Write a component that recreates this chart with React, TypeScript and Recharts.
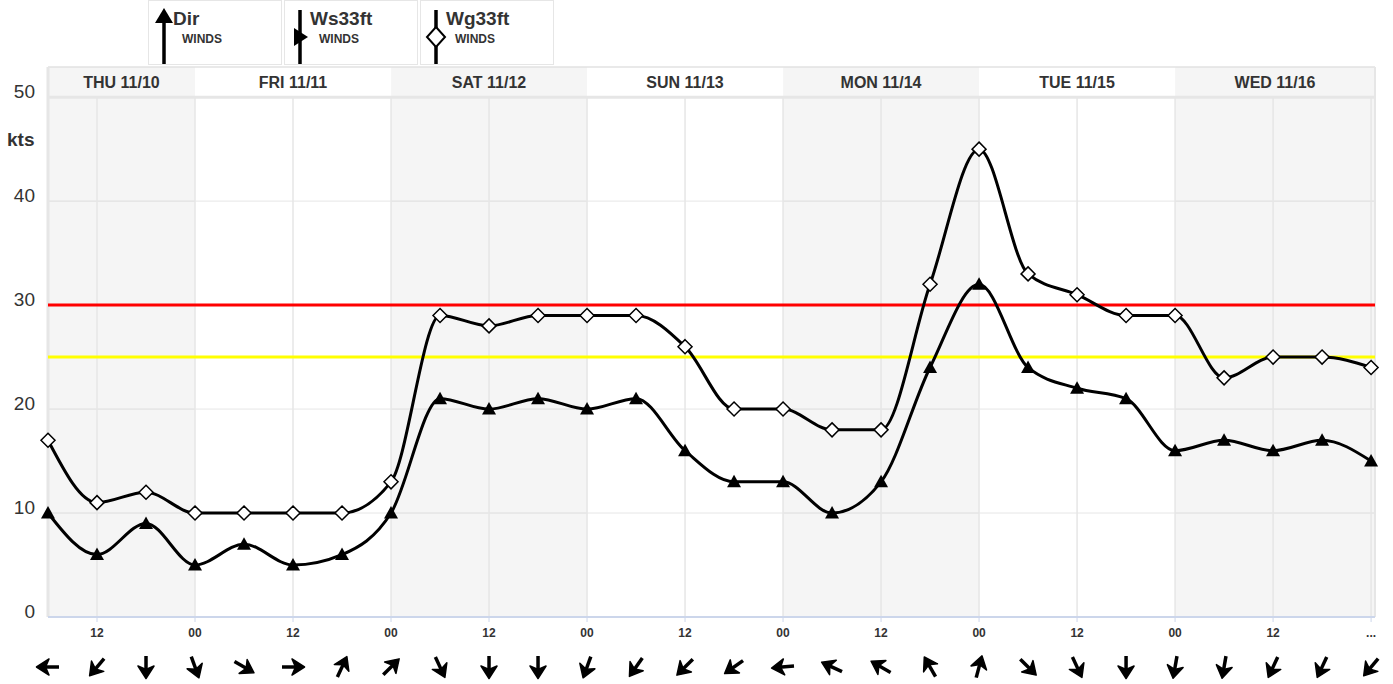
import React from "react";
import { ComposedChart, Line, XAxis, YAxis, CartesianGrid, ReferenceLine, ReferenceArea } from "recharts";

// one value every 6 hours, starting Thu 11/10 06z
const WS_33FT = [10, 6, 9, 5, 7, 5, 6, 10, 21, 20, 21, 20, 21, 16, 13, 13, 10, 13, 24, 32, 24, 22, 21, 16, 17, 16, 17, 15];
const WG_33FT = [17, 11, 12, 10, 10, 10, 10, 13, 29, 28, 29, 29, 29, 26, 20, 20, 18, 18, 32, 45, 33, 31, 29, 29, 23, 25, 25, 24];
// direction the arrow points, degrees clockwise from up
const DIR_DEG = [270, 220, 180, 160, 120, 90, 25, 45, 155, 180, 180, 200, 215, 225, 235, 265, 295, 300, 330, 15, 135, 155, 180, 190, 190, 205, 205, 220];

const HOUR_TICKS = [1, 3, 5, 7, 9, 11, 13, 15, 17, 19, 21, 23, 25, 27];
const HOUR_LABELS = ["12", "00", "12", "00", "12", "00", "12", "00", "12", "00", "12", "00", "12", "..."];

const DAY_LABELS = ["THU 11/10", "FRI 11/11", "SAT 11/12", "SUN 11/13", "MON 11/14", "TUE 11/15", "WED 11/16"];
const DAY_START = [0, 3, 7, 11, 15, 19, 23];
const DAY_END = [3, 7, 11, 15, 19, 23, 27.08];

const Y_TICKS = [0, 10, 20, 30, 40, 50];
const RED_LIMIT = 30;
const YELLOW_LIMIT = 25;

const X_MAX = 27.08;
const Y_MAX = 52.9;

const rows = WS_33FT.map((ws, i) => ({ x: i, ws, wg: WG_33FT[i], dir: DIR_DEG[i] }));

const FONT = "'Liberation Sans', Arial, sans-serif";
const GRID = "#e6e6e6";
const TEXT = "#333333";

function Triangle(p: any) {
  const { cx, cy, index } = p;
  if (cx == null || cy == null) return <g key={`t-${index}`} />;
  return <path key={`t-${index}`} d={`M${cx},${cy - 7} L${cx + 7},${cy + 5.5} L${cx - 7},${cy + 5.5} Z`} fill="#000" />;
}

function Diamond(p: any) {
  const { cx, cy, index } = p;
  if (cx == null || cy == null) return <g key={`d-${index}`} />;
  return (
    <path
      key={`d-${index}`}
      d={`M${cx},${cy - 7} L${cx + 7},${cy} L${cx},${cy + 7} L${cx - 7},${cy} Z`}
      fill="#fff"
      stroke="#000"
      strokeWidth={1.5}
    />
  );
}

function YTick(p: any) {
  return (
    <text x={35} y={p.y} dy={1} textAnchor="end" fontSize={19} fill={TEXT}>
      {p.payload.value}
    </text>
  );
}

function HourTick(p: any) {
  const i = HOUR_TICKS.indexOf(p.payload.value);
  return (
    <text x={p.x} y={p.y} dy={13} textAnchor="middle" fontSize={12} fontWeight={700} fill={TEXT}>
      {HOUR_LABELS[i]}
    </text>
  );
}

function ArrowTick(p: any) {
  const deg = DIR_DEG[p.payload.value];
  if (deg == null) return <g />;
  return (
    <g transform={`translate(${p.x},${p.y + 12}) rotate(${deg})`}>
      <line x1={0} y1={-4} x2={0} y2={11} stroke="#000" strokeWidth={3.5} />
      <path d="M0,-11.5 L8,1 L0,-2.5 L-8,1 Z" fill="#000" stroke="#000" strokeWidth={1.5} strokeLinejoin="round" />
    </g>
  );
}

function Legend() {
  const boxes = [
    { left: 148, name: "Dir", kind: "dir" },
    { left: 284, name: "Ws33ft", kind: "ws" },
    { left: 420, name: "Wg33ft", kind: "wg" },
  ];
  return (
    <svg width={1393} height={66} style={{ position: "absolute", left: 0, top: 0, fontFamily: FONT }}>
      {boxes.map((b) => (
        <g key={b.name} transform={`translate(${b.left},0)`}>
          <rect x={0.5} y={0.5} width={133} height={64} fill="#fff" stroke={GRID} />
          <line x1={16} y1={b.kind === "dir" ? 14 : 10} x2={16} y2={64} stroke="#000" strokeWidth={3.5} />
          {b.kind === "dir" && <path d="M16,8 L25,23 L7,23 Z" fill="#000" />}
          {b.kind === "ws" && <path d="M10,28 L24,37 L10,46 Z" fill="#000" />}
          {b.kind === "wg" && <path d="M16,27 L25,37 L16,47 L7,37 Z" fill="#fff" stroke="#000" strokeWidth={2} />}
          <text x={b.kind === "dir" ? 25 : 26} y={25} fontSize={19} fontWeight={700} fill={TEXT}>
            {b.name}
          </text>
          <text x={b.kind === "dir" ? 34 : 35} y={43} fontSize={12} fontWeight={700} fill={TEXT}>
            WINDS
          </text>
        </g>
      ))}
    </svg>
  );
}

export default function App() {
  return (
    <div style={{ position: "absolute", left: 0, top: 0, width: 1393, height: 684, background: "#fff", fontFamily: FONT }}>
      <ComposedChart
        width={1393}
        height={684}
        data={rows}
        margin={{ top: 67, right: 18, bottom: 0, left: 0 }}
        style={{ fontFamily: FONT }}
      >
        <CartesianGrid vertical={false} stroke={GRID} />
        {DAY_LABELS.map((d, i) =>
          i % 2 === 0 ? (
            <ReferenceArea
              key={`band-${d}`}
              x1={DAY_START[i]}
              x2={DAY_END[i]}
              y1={0}
              y2={Y_MAX}
              fill="#000"
              fillOpacity={0.04}
              stroke="none"
            />
          ) : null
        )}
        {DAY_LABELS.map((d, i) => (
          <ReferenceArea
            key={`head-${d}`}
            x1={DAY_START[i]}
            x2={DAY_END[i]}
            y1={50}
            y2={Y_MAX}
            fill="none"
            stroke="none"
            label={{ value: d, position: "center", fill: TEXT, fontSize: 16, fontWeight: 700 }}
          />
        ))}
        {HOUR_TICKS.map((t) => (
          <ReferenceLine
            key={`v-${t}`}
            segment={[
              { x: t, y: 0 },
              { x: t, y: 50 },
            ]}
            stroke={GRID}
            strokeWidth={1.5}
          />
        ))}
        <ReferenceLine y={50} stroke={GRID} strokeWidth={3} />
        <ReferenceLine y={Y_MAX} stroke={GRID} strokeWidth={1.5} />
        <ReferenceLine x={0} stroke={GRID} strokeWidth={3} />
        <ReferenceLine x={X_MAX} stroke={GRID} strokeWidth={2} />
        <ReferenceLine y={RED_LIMIT} stroke="#ff0000" strokeWidth={3} />
        <ReferenceLine y={YELLOW_LIMIT} stroke="#ffff00" strokeWidth={3} />
        <XAxis
          type="number"
          dataKey="x"
          domain={[0, X_MAX]}
          ticks={HOUR_TICKS}
          interval={0}
          height={30}
          tickSize={5}
          axisLine={{ stroke: "#ccd6eb", strokeWidth: 2 }}
          tickLine={{ stroke: "#ccd6eb" }}
          tick={HourTick}
        />
        <XAxis
          xAxisId="dir"
          type="number"
          dataKey="x"
          domain={[0, X_MAX]}
          ticks={rows.map((r) => r.x)}
          interval={0}
          height={37}
          axisLine={false}
          tickLine={false}
          tick={ArrowTick}
        />
        <YAxis
          type="number"
          domain={[0, Y_MAX]}
          ticks={Y_TICKS}
          width={48}
          axisLine={false}
          tickLine={false}
          tick={YTick}
          allowDataOverflow
        />
        <Line type="monotone" dataKey="wg" stroke="#000" strokeWidth={3} dot={Diamond} activeDot={false} isAnimationActive={false} />
        <Line type="monotone" dataKey="ws" stroke="#000" strokeWidth={3} dot={Triangle} activeDot={false} isAnimationActive={false} />
      </ComposedChart>
      <Legend />
      <div style={{ position: "absolute", left: 7, top: 128, fontSize: 19, fontWeight: 700, color: TEXT, lineHeight: "24px" }}>kts</div>
    </div>
  );
}
